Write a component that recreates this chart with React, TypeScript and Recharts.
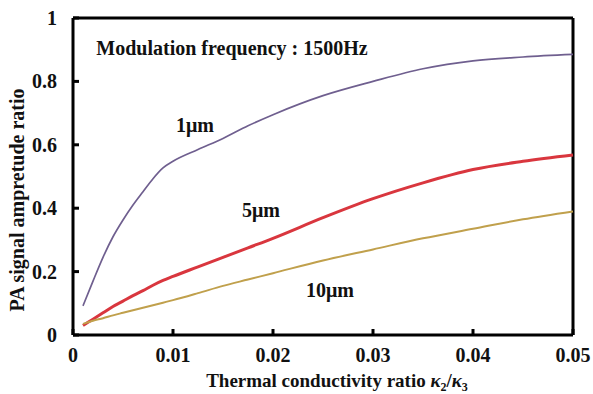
import React from "react";
import {
  LineChart,
  Line,
  XAxis,
  YAxis,
  ReferenceLine,
  ReferenceDot,
} from "recharts";

const ratios = [
  0.001, 0.002, 0.003, 0.004, 0.005, 0.006, 0.007, 0.008, 0.009, 0.01, 0.0125,
  0.015, 0.0175, 0.02, 0.025, 0.03, 0.035, 0.04, 0.045, 0.05,
];
const amp1um = [
  0.092, 0.17, 0.245, 0.31, 0.363, 0.41, 0.452, 0.493, 0.527, 0.548, 0.585,
  0.62, 0.66, 0.695, 0.755, 0.8, 0.84, 0.865, 0.877, 0.885,
];
const amp5um = [
  0.03, 0.05, 0.07, 0.09, 0.107, 0.124, 0.14, 0.157, 0.172, 0.185, 0.215,
  0.245, 0.275, 0.305, 0.37, 0.43, 0.48, 0.522, 0.548, 0.568,
];
const amp10um = [
  0.035, 0.045, 0.053, 0.062, 0.07, 0.078, 0.086, 0.094, 0.102, 0.11, 0.132,
  0.155, 0.175, 0.195, 0.235, 0.27, 0.305, 0.335, 0.365, 0.39,
];
const xTicks = [0, 0.01, 0.02, 0.03, 0.04, 0.05];
const yTicks = [0, 0.2, 0.4, 0.6, 0.8, 1];

const data = ratios.map((r, i) => ({
  r,
  a1: amp1um[i],
  a5: amp5um[i],
  a10: amp10um[i],
}));

const serif = {
  fontFamily: "'Liberation Serif', 'Times New Roman', serif",
  fontWeight: 700,
  fill: "#111",
};

const fmt = (v: number) => (v === 0 ? "0" : v === 1 ? "1" : String(v));

function XTick({ x, y, payload }: any) {
  return (
    <text x={x} y={y + 31} textAnchor="middle" style={{ ...serif, fontSize: 20 }}>
      {fmt(payload.value)}
    </text>
  );
}

function YTick({ y, payload }: any) {
  return (
    <text x={57} y={y + 7} textAnchor="end" style={{ ...serif, fontSize: 20 }}>
      {fmt(payload.value)}
    </text>
  );
}

function XLabel({ viewBox }: any) {
  const cx = viewBox.x + viewBox.width / 2 + 14;
  return (
    <text x={cx} y={387} textAnchor="middle" style={{ ...serif, fontSize: 19 }}>
      Thermal conductivity ratio{" "}
      <tspan fontStyle="italic">κ</tspan>
      <tspan fontSize={12} dy={4}>2</tspan>
      <tspan dy={-4}>/</tspan>
      <tspan fontStyle="italic">κ</tspan>
      <tspan fontSize={12} dy={4}>3</tspan>
    </text>
  );
}

function YLabel() {
  return (
    <text
      x={24}
      y={200}
      transform="rotate(-90 24 200)"
      textAnchor="middle"
      style={{ ...serif, fontSize: 20 }}
    >
      PA signal ampretude ratio
    </text>
  );
}

const note = (value: string) => ({
  value,
  content: ({ viewBox }: any) => (
    <text
      x={viewBox.x}
      y={viewBox.y + 7}
      textAnchor="middle"
      style={{ ...serif, fontSize: 20 }}
    >
      {value}
    </text>
  ),
});

export default function App() {
  return (
    <div style={{ position: "absolute", left: 0, top: 0, background: "#fff" }}>
      <LineChart
        width={593}
        height={394}
        data={data}
        margin={{ top: 18, right: 20, left: 0, bottom: 0 }}
      >
        <XAxis
          dataKey="r"
          type="number"
          domain={[0, 0.05]}
          ticks={xTicks}
          axisLine={{ stroke: "#000", strokeWidth: 3 }}
          tickLine={{ stroke: "#000", strokeWidth: 3 }}
          tickSize={-6}
          tick={<XTick />}
          height={59}
          label={<XLabel />}
        />
        <YAxis
          type="number"
          domain={[0, 1]}
          ticks={yTicks}
          axisLine={{ stroke: "#000", strokeWidth: 3 }}
          tickLine={{ stroke: "#000", strokeWidth: 3 }}
          tickSize={-6}
          tick={<YTick />}
          width={73}
          label={<YLabel />}
        />
        <ReferenceLine y={1} stroke="#000" strokeWidth={3} />
        <ReferenceLine x={0.05} stroke="#000" strokeWidth={3} />
        <Line
          type="monotone"
          dataKey="a1"
          stroke="#6f5f8f"
          strokeWidth={1.7}
          dot={false}
          isAnimationActive={false}
        />
        <Line
          type="monotone"
          dataKey="a5"
          stroke="#d9363e"
          strokeWidth={3}
          dot={false}
          isAnimationActive={false}
        />
        <Line
          type="monotone"
          dataKey="a10"
          stroke="#c0a04c"
          strokeWidth={2}
          dot={false}
          isAnimationActive={false}
        />
        <ReferenceDot x={0.0159} y={0.905} r={0} stroke="none" fill="none" label={note("Modulation frequency : 1500Hz")} />
        <ReferenceDot x={0.0122} y={0.662} r={0} stroke="none" fill="none" label={note("1μm")} />
        <ReferenceDot x={0.0188} y={0.394} r={0} stroke="none" fill="none" label={note("5μm")} />
        <ReferenceDot x={0.0257} y={0.142} r={0} stroke="none" fill="none" label={note("10μm")} />
      </LineChart>
    </div>
  );
}
